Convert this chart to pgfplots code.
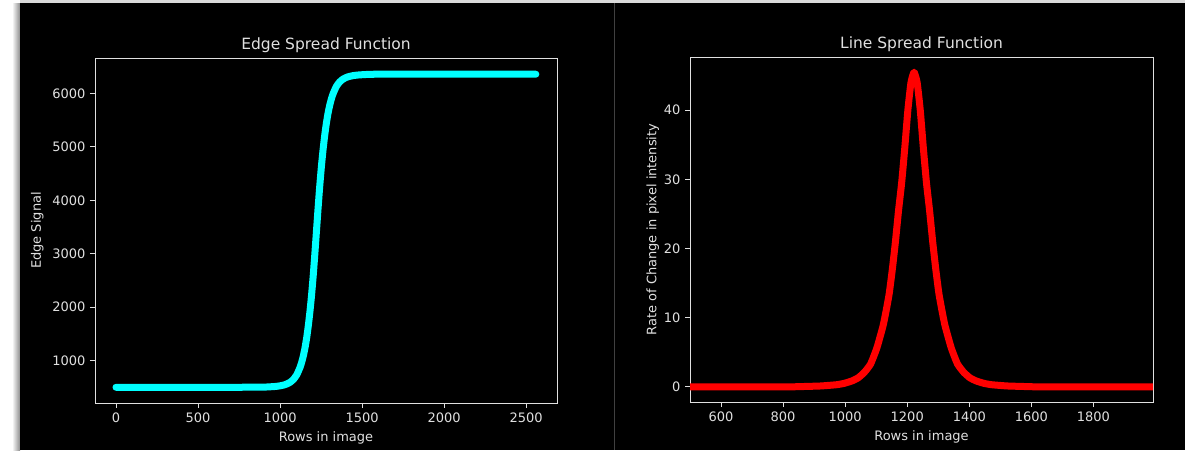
\documentclass[border=0pt]{standalone}
\usepackage{pgfplots}
\pgfplotsset{compat=1.18}
\usepackage{fontspec}
\setmainfont{DejaVu Sans}
\definecolor{fg}{gray}{0.88}
\definecolor{mycyan}{RGB}{0,255,255}
\definecolor{myred}{RGB}{255,0,0}
\pgfplotsset{darkax/.style={
  scale only axis,
  axis line style={fg, line width=1pt},
  tick style={fg, line width=1pt},
  tick align=outside, major tick length=5pt, tick pos=left,
  ticklabel style={text=fg, font=\fontsize{13}{15}\selectfont},
  label style={text=fg, font=\fontsize{13}{15}\selectfont},
  title style={text=fg, font=\fontsize{15.5}{18}\selectfont, yshift=-5pt},
  /pgf/number format/assume math mode=true,
  /pgf/number format/1000 sep={},
  every axis plot/.append style={line cap=round, line join=round},
}}
\pgfplotstableread{
x y
0 500
822 501
872 502
922 506
972 516
997 526
1022 542
1042 563
1062 596
1082 649
1102 735
1122 875
1132 971
1142 1090
1152 1238
1162 1422
1172 1648
1182 1915
1192 2226
1202 2588
1212 2995
1222 3430
1232 3864
1242 4272
1252 4634
1262 4945
1272 5212
1282 5437
1292 5622
1302 5770
1312 5889
1322 5985
1342 6125
1362 6211
1382 6264
1402 6297
1422 6318
1447 6334
1472 6344
1522 6354
1572 6358
1622 6360
2559 6360
}\esf
\pgfplotstableread{
x y
500 0
822 0
872 0.05
922 0.12
972 0.3
997 0.5
1022 0.85
1042 1.3
1062 2.1
1082 3.3
1102 5.6
1122 8.8
1132 11.0
1142 13.5
1152 17.0
1162 21.0
1172 25.5
1182 29.5
1192 34.5
1202 40.0
1212 44.0
1222 45.5
1232 44.0
1242 40.0
1252 34.5
1262 29.5
1272 25.5
1282 21.0
1292 17.0
1302 13.5
1312 11.0
1322 8.8
1342 5.6
1362 3.3
1382 2.1
1402 1.3
1422 0.85
1447 0.5
1472 0.3
1522 0.12
1572 0.05
1622 0
1992 0
}\lsf
\begin{document}
\fontsize{13}{15}\selectfont
\begin{tikzpicture}[x=1pt,y=1pt]
\useasboundingbox (0,0) rectangle (1185,-450);
\fill[white] (0,0) rectangle (1185,-450);
\shade[left color=white, right color=black!45] (12,-3) rectangle (20,-450);
\fill[black] (20,-3) rectangle (1185,-450);
\fill[black!15] (20,0) rectangle (1185,-2.5);
\draw[black!75, line width=1pt] (614,-3) -- (614,-450);

\begin{axis}[darkax,
  at={(95pt,-403pt)}, anchor=south west,
  width=462pt, height=345pt,
  xmin=-128, xmax=2688, ymin=206, ymax=6663,
  xtick={0,500,1000,1500,2000,2500},
  ytick={1000,2000,3000,4000,5000,6000},
  title={Edge Spread Function},
  xlabel={Rows in image}, ylabel={Edge Signal},
]
\addplot[mycyan, line width=7pt, smooth, tension=0.3] table[x=x,y=y] {\esf};
\end{axis}

\begin{axis}[darkax,
  at={(690pt,-402pt)}, anchor=south west,
  width=463pt, height=345pt,
  xmin=500, xmax=1992, ymin=-2.2, ymax=47.7,
  xtick={600,800,1000,1200,1400,1600,1800},
  ytick={0,10,20,30,40},
  title={Line Spread Function},
  xlabel={Rows in image}, ylabel={Rate of Change in pixel intensity},
  ylabel style={xshift=0pt, yshift=-4pt},
]
\addplot[myred, line width=7pt, smooth, tension=0.3] table[x=x,y=y] {\lsf};
\end{axis}
\end{tikzpicture}
\end{document}
